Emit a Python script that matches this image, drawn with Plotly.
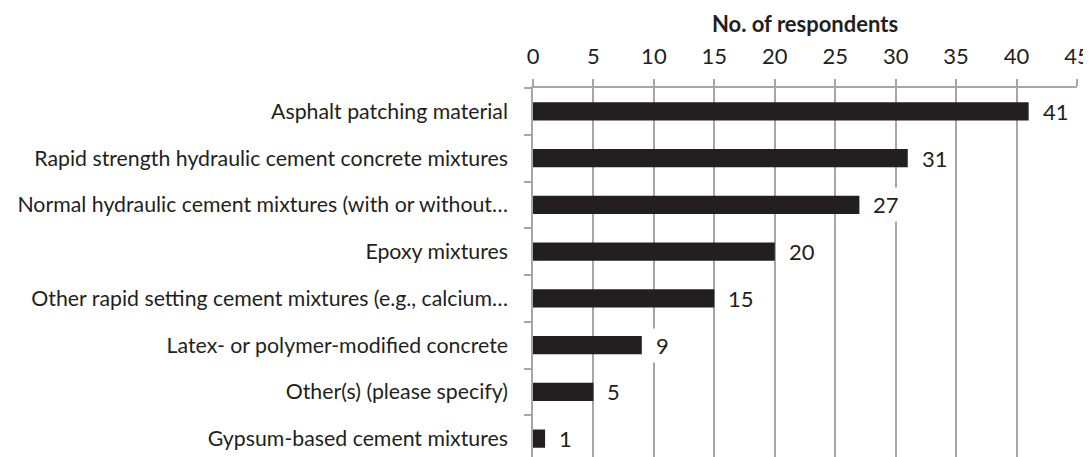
import plotly.graph_objects as go

categories = [
    "Asphalt patching material",
    "Rapid strength hydraulic cement concrete mixtures",
    "Normal hydraulic cement mixtures (with or without…",
    "Epoxy mixtures",
    "Other rapid setting cement mixtures (e.g., calcium…",
    "Latex- or polymer-modified concrete",
    "Other(s) (please specify)",
    "Gypsum-based cement mixtures",
]
values = [41, 31, 27, 20, 15, 9, 5, 1]
x_ticks = [0, 5, 10, 15, 20, 25, 30, 35, 40, 45]
axis_title = "No. of respondents"

FONT = "Lato"
TXT = "#231f20"
GRID = "#a6a6a6"
SIZE = 22

fig = go.Figure()
fig.add_trace(go.Bar(
    x=values, y=categories, orientation="h",
    marker=dict(color="#231f20", line=dict(width=0)),
    width=0.39, hoverinfo="skip", showlegend=False,
))

for v, c in zip(values, categories):
    fig.add_annotation(
        x=v, y=c, xref="x", yref="y", text=str(v), showarrow=False,
        xanchor="left", yanchor="middle", xshift=10,
        bgcolor="white", borderpad=3,
        font=dict(family=FONT, size=SIZE, color=TXT),
    )

# page body has an 8px margin, so the figure is sized to fill the rest of the window
fig.update_layout(
    width=1083, height=449,
    margin=dict(l=525, r=14, t=80, b=0, pad=0),
    paper_bgcolor="white", plot_bgcolor="white",
    font=dict(family=FONT, size=SIZE, color=TXT),
    bargap=0.61,
)
fig.update_xaxes(
    side="top", range=[0, 45], tickvals=x_ticks, ticktext=[str(t) for t in x_ticks],
    showgrid=True, gridcolor=GRID, gridwidth=1.5,
    showline=True, linecolor=GRID, linewidth=1.5,
    ticks="outside", ticklen=7, tickcolor=GRID, tickwidth=1.5,
    tickfont=dict(family=FONT, size=SIZE, color=TXT),
    ticklabelstandoff=6,
    title=dict(text="<b>" + axis_title + "</b>", font=dict(family=FONT, size=SIZE, color=TXT), standoff=4),
    zeroline=False, fixedrange=True, automargin=False,
)
fig.update_yaxes(
    categoryorder="array", categoryarray=categories,
    range=[7.393, -0.5],
    showgrid=False, showline=True, linecolor=GRID, linewidth=1.5,
    ticks="outside", ticklen=7, tickcolor=GRID, tickwidth=1.5, tickson="boundaries",
    tickfont=dict(family=FONT, size=21.3, color=TXT),
    ticklabelstandoff=19,
    zeroline=False, fixedrange=True, automargin=False,
)

fig.write_html("out.html")
